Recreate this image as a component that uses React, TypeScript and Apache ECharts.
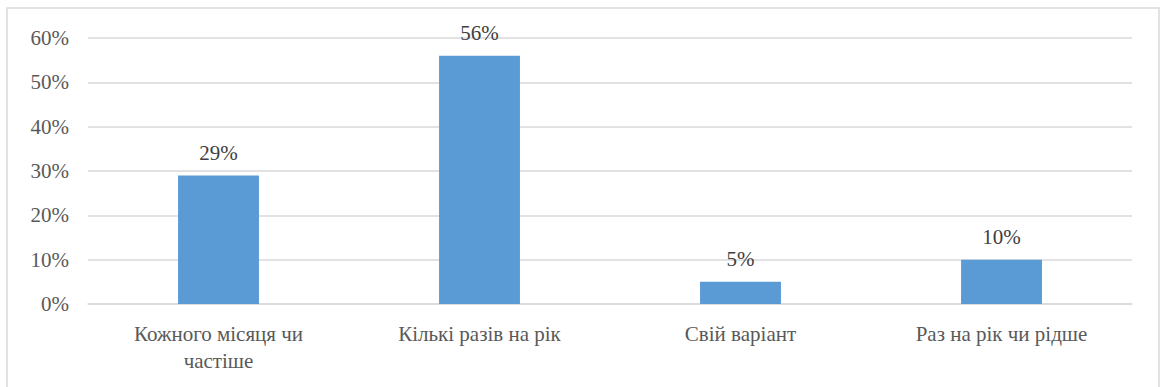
import React, { useEffect, useRef } from "react";
import * as echarts from "echarts";

const categories = ["Кожного місяця чи\nчастіше", "Кількі разів на рік", "Свій варіант", "Раз на рік чи рідше"];
const values = [29, 56, 5, 10];
const yTicks = [0, 10, 20, 30, 40, 50, 60];

const FONT = "Liberation Serif";

export default function App() {
  const ref = useRef<HTMLDivElement>(null);
  useEffect(() => {
    const chart = echarts.init(ref.current!, null, { renderer: "svg" });
    chart.setOption({
      animation: false,
      backgroundColor: "#ffffff",
      textStyle: { fontFamily: FONT },
      graphic: [
        {
          type: "rect",
          shape: { x: 7, y: 8, width: 1152, height: 400 },
          style: { fill: "none", stroke: "#d9d9d9", lineWidth: 1.5 },
          silent: true,
        },
      ],
      grid: { left: 88, right: 28, top: 38, bottom: 83, containLabel: false },
      xAxis: {
        type: "category",
        data: categories,
        axisLine: { show: true, lineStyle: { color: "#d9d9d9", width: 1.5 } },
        axisTick: { show: false },
        axisLabel: {
          color: "#595959",
          fontFamily: FONT,
          fontSize: 21,
          lineHeight: 27,
          margin: 16,
          interval: 0,
        },
      },
      yAxis: {
        type: "value",
        min: 0,
        max: yTicks[yTicks.length - 1],
        interval: 10,
        axisLine: { show: false },
        axisTick: { show: false },
        splitLine: { lineStyle: { color: "#d9d9d9", width: 1.5 } },
        axisLabel: {
          color: "#595959",
          fontFamily: FONT,
          fontSize: 21,
          margin: 19,
          formatter: (v: number) => v + "%",
        },
      },
      series: [
        {
          type: "bar",
          data: values,
          barWidth: "31%",
          itemStyle: { color: "#5b9bd5" },
          label: {
            show: true,
            position: "top",
            distance: 12,
            color: "#404040",
            fontFamily: FONT,
            fontSize: 21,
            formatter: (p: any) => p.value + "%",
          },
        },
      ],
    });
    return () => chart.dispose();
  }, []);
  return (
    <>
      <style>{`#chart-root text { font-family: "Liberation Serif", serif !important; }`}</style>
      <div
        id="chart-root"
        ref={ref}
        style={{ position: "absolute", left: 0, top: 0, width: 1160, height: 387 }}
      />
    </>
  );
}
